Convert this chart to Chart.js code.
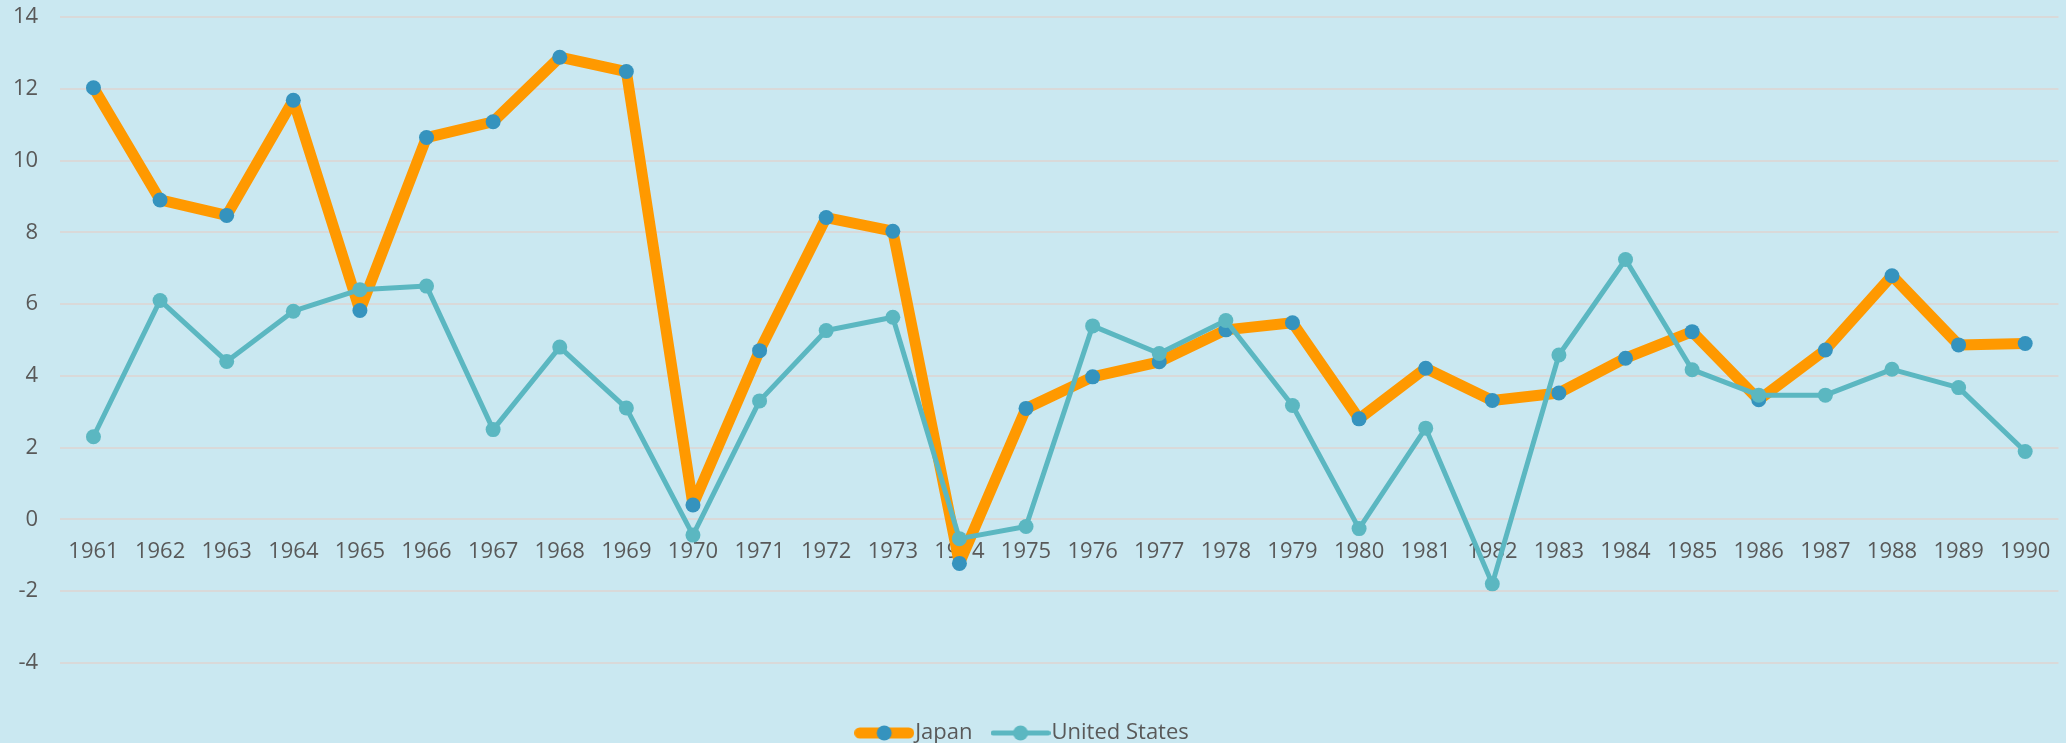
<!DOCTYPE html>
<html>
<head>
<meta charset="utf-8">
<script src="https://cdn.jsdelivr.net/npm/chart.js@4"></script>
<style>
  html, body { margin: 0; padding: 0; background: #CAE8F1; }
  .card { width: 2066px; height: 743px; }
</style>
</head>
<body>
<div class="card"><canvas id="myChart" width="2066" height="743"></canvas></div>
<script>
const years = ['1961','1962','1963','1964','1965','1966','1967','1968','1969','1970',
  '1971','1972','1973','1974','1975','1976','1977','1978','1979','1980',
  '1981','1982','1983','1984','1985','1986','1987','1988','1989','1990']

const japan = [12.03, 8.9, 8.47, 11.68, 5.82, 10.64, 11.08, 12.88, 12.48, 0.4,
  4.7, 8.41, 8.03, -1.23, 3.09, 3.97, 4.39, 5.28, 5.48, 2.8,
  4.21, 3.31, 3.52, 4.49, 5.23, 3.33, 4.72, 6.79, 4.86, 4.9]

const unitedStates = [2.3, 6.1, 4.4, 5.8, 6.4, 6.5, 2.5, 4.8, 3.1, -0.44,
  3.3, 5.26, 5.63, -0.54, -0.2, 5.39, 4.62, 5.54, 3.17, -0.26,
  2.54, -1.8, 4.58, 7.24, 4.17, 3.46, 3.46, 4.18, 3.67, 1.89]

const yTicks = { min: -4, max: 14, step: 2 }

const orange = '#FF9900'
const blueMarker = '#3593BE'
const teal = '#5BB7C1'
const textColor = '#595959'
const fontFamily = 'Open Sans'

// little line+dot swatch for the legend, like Excel's
const swatch = (lineColor, lineWidth, dotColor) => {
    const c = document.createElement('canvas')
    c.width = 60
    c.height = 20
    const g = c.getContext('2d')
    g.strokeStyle = lineColor
    g.lineWidth = lineWidth
    g.lineCap = 'round'
    g.beginPath()
    g.moveTo(lineWidth / 2, 10)
    g.lineTo(60 - lineWidth / 2, 10)
    g.stroke()
    g.fillStyle = dotColor
    g.beginPath()
    g.arc(30, 10, 7.5, 0, Math.PI * 2)
    g.fill()
    return c
}

const createChart = () => {
    const ctx = document.getElementById('myChart');

    const legendIcons = [swatch(orange, 11, blueMarker), swatch(teal, 5, teal)]

    const data = {
        labels: years,
        datasets: [{
          label: 'Japan',
          data: japan,
          borderColor: orange,
          borderWidth: 11,
          borderJoinStyle: 'round',
          borderCapStyle: 'round',
          pointRadius: 7.5,
          pointBackgroundColor: blueMarker,
          pointBorderWidth: 0,
          order: 1
        }, {
          label: 'United States',
          data: unitedStates,
          borderColor: teal,
          borderWidth: 5,
          borderJoinStyle: 'round',
          borderCapStyle: 'round',
          pointRadius: 7.5,
          pointBackgroundColor: teal,
          pointBorderWidth: 0,
          order: 0
        }]
      };

    new Chart(ctx, {
      type: 'line',
      data: data,
      options: {
        responsive: false,
        animation: false,
        layout: { padding: { top: 17, right: 4, left: -9, bottom: -11 } },
        plugins: {
          tooltip: { enabled: false },
          legend: {
            position: 'bottom',
            title: {
              display: true,
              text: '',
              font: { size: 1 },
              padding: { top: 0, bottom: 30 }
            },
            labels: {
              color: textColor,
              font: { family: fontFamily, size: 22 },
              usePointStyle: true,
              pointStyleWidth: 40,
              padding: 28,
              sort: (a, b) => a.datasetIndex - b.datasetIndex,
              generateLabels: (chart) => {
                const items = Chart.defaults.plugins.legend.labels.generateLabels(chart)
                items.forEach(it => { it.pointStyle = legendIcons[it.datasetIndex] })
                return items
              }
            }
          }
        },
        scales: {
          x: {
            position: { y: 0 },
            offset: true,
            afterFit: (scale) => { scale.paddingLeft = 0; scale.paddingRight = 0 },
            grid: { display: false, drawTicks: false },
            border: { display: false },
            ticks: {
              color: textColor,
              font: { family: fontFamily, size: 22 },
              padding: 19,
              maxRotation: 0,
              autoSkip: false
            }
          },
          y: {
            min: yTicks.min,
            max: yTicks.max,
            afterFit: (scale) => { scale.paddingTop = 0 },
            grid: { color: '#D9D9D9', lineWidth: 2, drawTicks: false },
            border: { display: false },
            ticks: {
              stepSize: yTicks.step,
              color: textColor,
              font: { family: fontFamily, size: 22 },
              padding: 22
            }
          }
        }
      }
    });
}

createChart()
</script>
</body>
</html>
